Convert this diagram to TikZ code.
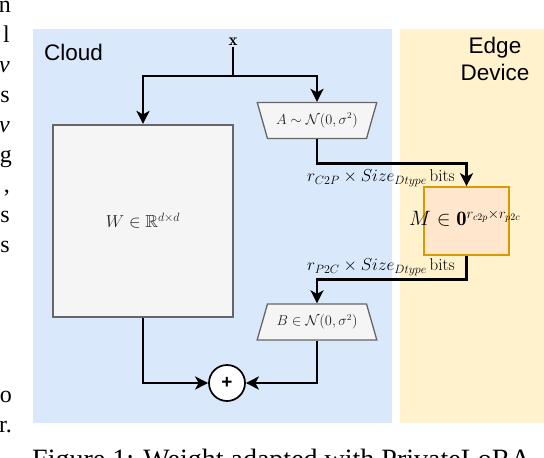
\documentclass[tikz,border=0pt]{standalone}
\usepackage{amsmath,amssymb}
\usepackage{fontspec}
\newfontfamily\arialf{Liberation Sans}
\newfontfamily\timesf{Liberation Serif}
\usetikzlibrary{arrows.meta,shapes.geometric,calc}
\definecolor{cloudbg}{HTML}{DAE8FC}
\definecolor{edgebg}{HTML}{FFF2CC}
\definecolor{boxfill}{HTML}{F5F5F5}
\definecolor{boxline}{HTML}{666666}
\definecolor{mfill}{HTML}{FFE6CC}
\definecolor{mline}{HTML}{D79B00}
\definecolor{labgrey}{HTML}{222222}
\tikzset{
  region/.style={draw=none},
  regionlabel/.style={font=\arialf\fontsize{22.5}{27}\selectfont, inner sep=0pt},
  wbox/.style={draw=boxline, fill=boxfill, line width=2.2pt, minimum width=180pt, minimum height=192pt, inner sep=0pt},
  trapbox/.style={trapezium, trapezium stretches=true, draw=boxline, fill=boxfill, line width=1.3pt,
     minimum width=120pt, minimum height=36pt, inner sep=0pt, text=labgrey},
  mbox/.style={draw=mline, fill=mfill, line width=1.6pt, minimum width=85pt, minimum height=68pt, inner sep=0pt},
  sumnode/.style={circle, draw=black, fill=white, line width=1.7pt, minimum size=36pt, inner sep=0pt},
  conn/.style={line width=2.9pt, -{Stealth[length=13pt,width=13pt,inset=3.5pt]}},
  plainline/.style={line width=2.9pt},
  connlabel/.style={inner sep=0pt, font=\fontsize{17}{20}\selectfont},
  margintext/.style={font=\timesf\fontsize{24}{29}\selectfont, inner sep=0pt, anchor=base east},
}
\begin{document}
\begin{tikzpicture}[x=1pt,y=-1pt]
\useasboundingbox (0,0) rectangle (544,458);
% regions
\fill[cloudbg] (33,29) rectangle (392,423);
\fill[edgebg] (400,29) rectangle (544,423);
\node[regionlabel, anchor=base west] (cloudlab) at (44,60) {Cloud};
\node[regionlabel, anchor=base] (edgelab1) at (495,53) {Edge};
\node[regionlabel, anchor=base] (edgelab2) at (495,80) {Device};
% nodes
\node[inner sep=1pt, font=\fontsize{17}{20}\selectfont] (xin) at (233,42) {$\mathbf{x}$};
\coordinate (j1) at (233,76);
\node[wbox] (W) at (143,221) {\textcolor{labgrey}{\fontsize{17.5}{21}\selectfont$W \in \mathbb{R}^{d\times d}$}};
\node[trapbox, trapezium left angle=120, trapezium right angle=120] (A) at (317,120.5) {\fontsize{13.5}{16}\selectfont$A\sim\mathcal{N}(0,\sigma^2)$};
\node[mbox] (M) at (466.5,221) {};
\node[inner sep=0pt, font=\fontsize{20.5}{24}\selectfont] (Mlab) at (465,218) {$M \in \mathbf{0}^{r_{c2p}\times r_{p2c}}$};
\node[trapbox, trapezium left angle=60, trapezium right angle=60] (B) at (317,322) {\fontsize{13.5}{16}\selectfont$B\in\mathcal{N}(0,\sigma^2)$};
\node[sumnode] (plus) at (227,383) {\arialf\bfseries\fontsize{19}{22}\selectfont +};
% connectors
\draw[plainline] (xin.south) -- (j1);
\draw[conn] (j1) -| (W);
\draw[conn] (j1) -| (A.90);
\draw[conn] (A.270) -- ++(0,24) -| (M);
\node[connlabel] (lab1) at (381,178) {$r_{C2P}\times Size_{Dtype}\,\text{bits}$};
\draw[conn] (M.south) -- ++(0,24) -| (B.90);
\node[connlabel] (lab2) at (381,267) {$r_{P2C}\times Size_{Dtype}\,\text{bits}$};
\draw[conn] (B.270) |- (plus);
\draw[conn] (W) |- (plus);
% surrounding page text
\node[margintext] (m1) at (11,12) {n};
\node[margintext] (m2) at (10,42) {l};
\node[margintext] (m3) at (10,72) {\itshape v};
\node[margintext] (m4) at (10,102) {s};
\node[margintext] (m5) at (10,132) {\itshape v};
\node[margintext] (m6) at (12,162) {g};
\node[margintext] (m7) at (10,192) {,};
\node[margintext] (m8) at (10,222) {s};
\node[margintext] (m9) at (10,252) {s};
\node[margintext] (m10) at (12,402) {o};
\node[margintext] (m11) at (12,432) {r.};
\node[font=\timesf\fontsize{28}{33}\selectfont, inner sep=0pt, anchor=base west] (caption) at (32,468) {Figure 1: Weight adapted with PrivateLoRA};
\end{tikzpicture}
\end{document}
